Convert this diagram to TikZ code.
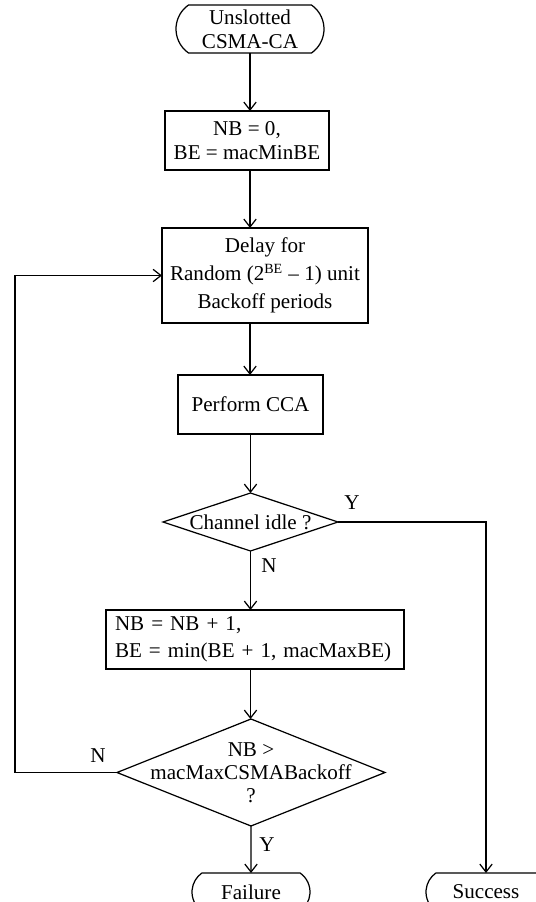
\documentclass[tikz,border=0pt]{standalone}
\usepackage{fontspec}
\setmainfont{Liberation Serif}
\usetikzlibrary{
  arrows.meta,
  positioning,
  shapes.geometric,
  shapes.misc
}

\begin{document}
\begin{tikzpicture}[
    every node/.style={font=\fontsize{12}{15}\selectfont, outer sep=0pt},
    terminal/.style={
      draw,
      rounded rectangle,
      rounded rectangle arc length=110,
      align=center,
      inner sep=0pt,
      minimum height=0.76cm
    },
    box/.style={
      draw,
      align=center,
      inner sep=0pt,
      minimum height=1.18cm
    },
    decision/.style={draw, diamond, inner sep=0pt},
    lbl/.style={inner sep=0pt},
    ar/.style={-{Straight Barb[length=4.5pt,width=7pt]}, line width=0.7pt},
    line width=0.7pt
  ]
    \useasboundingbox (0,0) rectangle (10.72,-18.04);

    % main column: start -> init -> backoff delay -> CCA -> check
    \node[terminal, minimum width=2.96cm, minimum height=0.96cm,
      font=\fontsize{12}{13.5}\selectfont] (start) at (5.0,-0.58)
      {Unslotted\\CSMA-CA};
    \node[box, minimum width=3.28cm, below=1.16cm of start, xshift=-0.06cm,
      font=\fontsize{12}{14}\selectfont] (nb0)
      {NB = 0,\\BE = macMinBE};
    \node[box, minimum width=4.12cm, minimum height=1.90cm,
      below=1.16cm of nb0, xshift=0.36cm,
      font=\fontsize{12}{16}\selectfont] (delay)
      {Delay for\\Random (2\textsuperscript{BE} – 1) unit\\Backoff periods};
    \node[box, minimum width=2.9cm, below=1.04cm of delay, xshift=-0.29cm] (cca)
      {Perform CCA};
    \node[decision, minimum width=3.5cm, minimum height=1.16cm,
      below=1.18cm of cca, label={center:Channel idle ?}] (idle) {};

    % busy branch
    \node[box, text width=5.6cm, inner xsep=0.18cm, align=left,
      below=1.18cm of idle, xshift=0.09cm,
      font=\fontsize{12}{15.5}\selectfont] (inc)
      {NB = NB + 1,\\BE = min(BE + 1, macMaxBE)};
    \node[decision, minimum width=5.36cm, minimum height=2.14cm,
      below=1.0cm of inc, xshift=-0.08cm,
      label={[align=center, font=\fontsize{12}{13}\selectfont]center:NB >\\macMaxCSMABackoff\\?}] (full) {};

    % end states
    \node[terminal, minimum width=2.36cm, below=0.94cm of full] (fail) {Failure};
    \node[terminal, minimum width=2.4cm, right=2.32cm of fail] (succ) {Success};

    \coordinate (back) at (0.30,0);

    % arrows down the column
    \draw[ar] (start.south) -- (nb0.north -| start.south);
    \draw[ar] (nb0.south -| start) -- (delay.north -| start);
    \draw[ar] (delay.south -| start) -- (cca.north -| start);
    \draw[ar] (cca) -- (idle);
    \draw[ar] (idle.south) -- (idle.south |- inc.north);
    \draw[ar] (idle.south |- inc.south) -- (idle.south |- full.north);
    \draw[ar] (full) -- (fail);

    % channel idle -> success, retry loop back to the delay
    \draw[ar] (idle.east) -| (succ.north);
    \draw[ar] (full.west) -- (full.west -| back) |- (delay.west);

    \node[lbl] (y1) at (7.04,-10.06) {Y};
    \node[lbl] (n1) at (5.38,-11.32) {N};
    \node[lbl] (n2) at (1.96,-15.12) {N};
    \node[lbl] (y2) at (5.34,-16.90) {Y};
  \end{tikzpicture}
\end{document}
